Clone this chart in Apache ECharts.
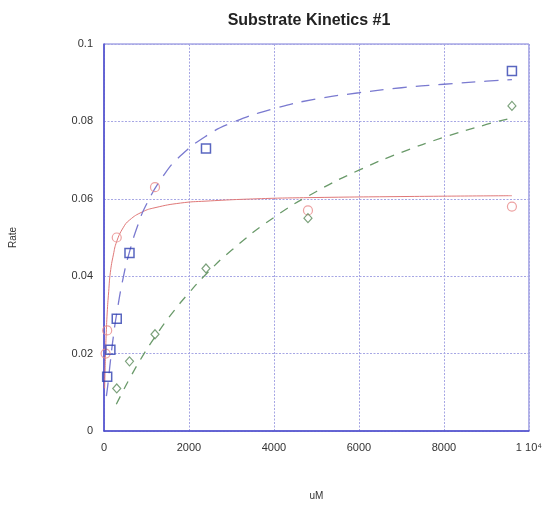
<!DOCTYPE html>
<html>
<head>
<meta charset="utf-8">
<script src="https://cdn.jsdelivr.net/npm/echarts@6/dist/echarts.min.js"></script>
<style>html,body{margin:0;padding:0;background:#fff}#c{width:545px;height:506px}</style>
</head>
<body>
<div id="c"></div>
<script>
// Measured points
const blueX = [75, 150, 300, 600, 2400, 9600];
const blueY = [0.014, 0.021, 0.029, 0.046, 0.073, 0.093];
const redX = [37.5, 75, 300, 1200, 4800, 9600];
const redY = [0.020, 0.026, 0.050, 0.063, 0.057, 0.058];
const greenX = [300, 600, 1200, 2400, 4800, 9600];
const greenY = [0.011, 0.018, 0.025, 0.042, 0.055, 0.084];

// Fit curves
const redFitX = [15, 25, 37.5, 50, 75, 110, 150, 220, 300, 450, 600, 900, 1200, 1800, 2400, 3600, 4800, 7200, 9600];
const redFitY = [0.011, 0.0155, 0.0205, 0.0245, 0.0305, 0.036, 0.041, 0.0455, 0.049, 0.0525, 0.0545, 0.0566, 0.0577, 0.0589, 0.0594, 0.0600, 0.0603, 0.0606, 0.0608];
const blueFitX = [56, 100, 150, 220, 300, 450, 600, 800, 1000, 1400, 1800, 2400, 3000, 4000, 5000, 6000, 7000, 8000, 9000, 9600];
const blueFitY = [0.009, 0.0128, 0.018, 0.0244, 0.0304, 0.0395, 0.0463, 0.0533, 0.0586, 0.066, 0.0711, 0.0762, 0.0796, 0.0833, 0.0858, 0.0874, 0.0887, 0.0896, 0.0904, 0.0908];
const greenFitX = [290, 400, 600, 900, 1200, 1600, 2000, 2400, 3000, 4000, 5000, 6000, 7000, 8000, 9000, 9600];
const greenFitY = [0.0069, 0.0093, 0.0135, 0.0192, 0.0243, 0.0304, 0.0357, 0.0405, 0.0467, 0.0552, 0.0619, 0.0674, 0.072, 0.0759, 0.0792, 0.0809];

// Tick labels
const xTickValues = [0, 2000, 4000, 6000, 8000, 10000];
const xTickLabels = ['0', '2000', '4000', '6000', '8000', '1 10\u2074'];
const yTickValues = [0, 0.02, 0.04, 0.06, 0.08, 0.1];
const yTickLabels = ['0', '0.02', '0.04', '0.06', '0.08', '0.1'];

const zip = (xs, ys) => xs.map((x, i) => [x, ys[i]]);

const chart = echarts.init(document.getElementById('c'), null, {renderer: 'canvas'});
const labelFont = {color: '#333', fontSize: 11, fontFamily: 'Liberation Sans, Arial, sans-serif'};
chart.setOption({
  animation: false,
  backgroundColor: '#fff',
  title: {
    text: 'Substrate Kinetics #1',
    left: 304, top: 8, textAlign: 'center',
    textStyle: {fontSize: 16, fontWeight: 'bold', color: '#222', fontFamily: 'Liberation Sans, Arial, sans-serif'}
  },
  grid: {left: 104, right: 15, top: 44, bottom: 71, show: true, borderColor: '#7a7ad8', borderWidth: 1, containLabel: false},
  xAxis: {
    type: 'value', min: 0, max: 10000, interval: 2000,
    name: 'uM', nameLocation: 'middle', nameGap: 60,
    nameTextStyle: Object.assign({}, labelFont, {fontSize: 10}),
    axisLine: {show: true, onZero: false, lineStyle: {color: '#4a4acc', width: 1.5}},
    axisTick: {show: false},
    axisLabel: Object.assign({}, labelFont, {margin: 11, formatter: v => { const i = xTickValues.indexOf(v); return i >= 0 ? xTickLabels[i] : ''; }}),
    splitLine: {show: true, lineStyle: {color: '#a6a6e4', type: [2, 1.5], width: 1}}
  },
  yAxis: {
    type: 'value', min: 0, max: 0.1, interval: 0.02,
    name: 'Rate', nameLocation: 'middle', nameGap: 86, nameRotate: 90,
    nameTextStyle: Object.assign({}, labelFont, {fontSize: 10}),
    axisLine: {show: true, onZero: false, lineStyle: {color: '#4a4acc', width: 1.5}},
    axisTick: {show: false},
    axisLabel: Object.assign({}, labelFont, {margin: 11, formatter: v => { const i = yTickValues.findIndex(t => Math.abs(t - v) < 1e-9); return i >= 0 ? yTickLabels[i] : ''; }}),
    splitLine: {show: true, lineStyle: {color: '#a6a6e4', type: [2, 1.5], width: 1}}
  },
  series: [
    {type: 'line', data: zip(redFitX, redFitY), smooth: true, showSymbol: false, symbol: 'none',
     lineStyle: {color: '#e07878', width: 1}, z: 2},
    {type: 'line', data: zip(blueFitX, blueFitY), smooth: true, showSymbol: false, symbol: 'none',
     lineStyle: {color: '#7a7ad0', width: 1.3, type: [14, 9]}, z: 2},
    {type: 'line', data: zip(greenFitX, greenFitY), smooth: true, showSymbol: false, symbol: 'none',
     lineStyle: {color: '#6a9a6a', width: 1.3, type: [9, 8]}, z: 2},
    {type: 'scatter', data: zip(redX, redY), symbol: 'circle', symbolSize: 9,
     itemStyle: {color: 'rgba(255,255,255,0)', borderColor: '#e88a8a', borderWidth: 1.2}, z: 3},
    {type: 'scatter', data: zip(greenX, greenY), symbol: 'diamond', symbolSize: [8, 9],
     itemStyle: {color: 'rgba(255,255,255,0)', borderColor: '#5a8a5a', borderWidth: 1.2}, z: 3},
    {type: 'scatter', data: zip(blueX, blueY), symbol: 'rect', symbolSize: 9,
     itemStyle: {color: 'rgba(255,255,255,0)', borderColor: '#3040b0', borderWidth: 1.5}, z: 4}
  ]
});
</script>
</body>
</html>
